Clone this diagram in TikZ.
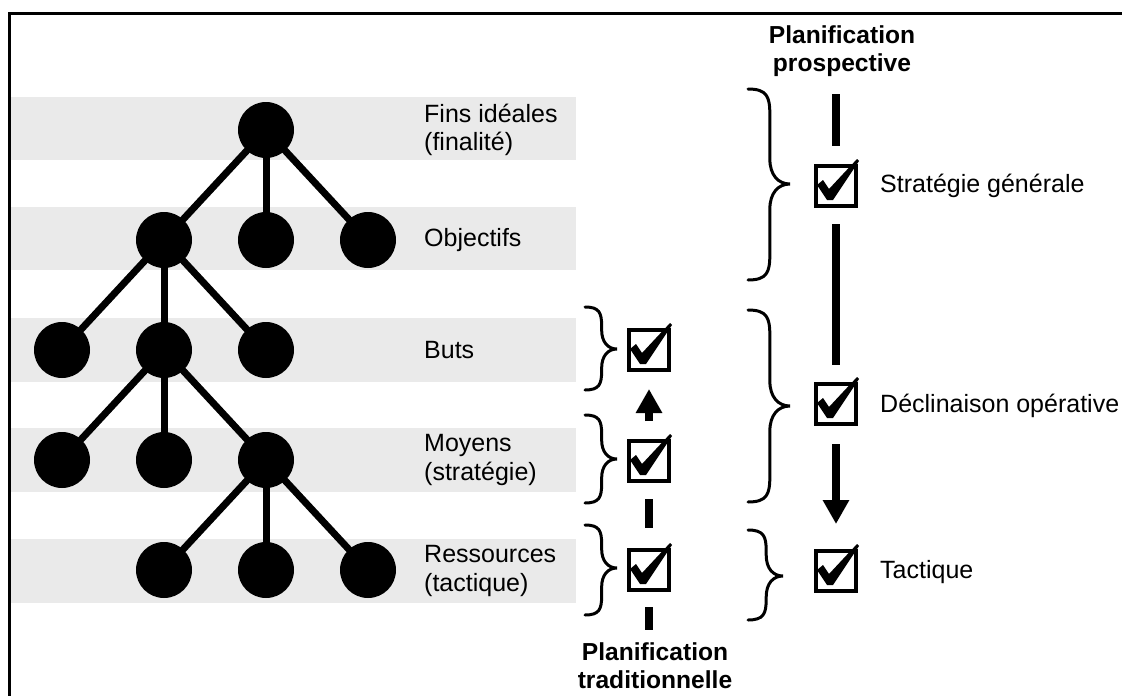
\documentclass[tikz,border=0pt]{standalone}
\usepackage{fontspec}
\setmainfont{Liberation Sans}
\usetikzlibrary{arrows.meta,calc}
\definecolor{bandgray}{HTML}{EAEAEA}
\tikzset{
  band/.style={fill=bandgray, draw=none},
  dot/.style={circle, fill=black, minimum size=56pt, inner sep=0pt},
  edge/.style={line width=7pt},
  lbl/.style={anchor=west, inner sep=0pt, align=left, font=\fontsize{25}{28.5}\selectfont},
  ttl/.style={inner sep=0pt, align=center, font=\bfseries\fontsize{24.6}{28}\selectfont},
  chkbox/.style={draw, line width=4pt, minimum size=40pt, inner sep=0pt},
  flow/.style={line width=8pt},
  flowarrow/.style={line width=8pt, -{Triangle[length=24pt,width=25pt]}},
  brc/.style={line width=3pt, line cap=round},
  frame/.style={line width=3pt},
}
\newcommand\cbrace[5]{% x0, ytop, ytip, ybot, width
  \pgfmathsetmacro\cbXa{#1+0.52*#5}%
  \pgfmathsetmacro\cbR{0.6*#5}%
  \draw[brc] (#1,#2) .. controls ({#1+0.45*#5},#2) and (\cbXa,{#2+0.3*\cbR}) .. (\cbXa,{#2+\cbR})
    -- (\cbXa,{#3-\cbR}) .. controls (\cbXa,{#3-0.35*\cbR}) and ({\cbXa+0.2*#5},#3) .. ({#1+#5},#3)
    .. controls ({\cbXa+0.2*#5},#3) and (\cbXa,{#3+0.35*\cbR}) .. (\cbXa,{#3+\cbR})
    -- (\cbXa,{#4-\cbR}) .. controls (\cbXa,{#4-0.3*\cbR}) and ({#1+0.45*#5},#4) .. (#1,#4);
}
\newcommand\chkmark[1]{%
  \fill[shift={(#1.north west)}] (3,21) -- (9,16) -- (15,25) -- (43,-5) -- (45,-3) -- (19,36) -- (13,36) -- cycle;
}
\begin{document}
\begin{tikzpicture}[x=1pt,y=-1pt]
\useasboundingbox (0,0) rectangle (1122,696);
% frame
\draw[frame] (9.5,696) -- (9.5,13.5) -- (1122,13.5);
% bands
\fill[band] (11,97) rectangle (576,160);
\fill[band] (11,207) rectangle (576,270);
\fill[band] (11,318) rectangle (576,382);
\fill[band] (11,428) rectangle (576,492);
\fill[band] (11,539) rectangle (576,603);
% tree nodes
\node[dot] (a) at (266,130) {};
\node[dot] (b1) at (164,240) {};
\node[dot] (b2) at (266,240) {};
\node[dot] (b3) at (368,240) {};
\node[dot] (c1) at (62,350) {};
\node[dot] (c2) at (164,350) {};
\node[dot] (c3) at (266,350) {};
\node[dot] (d1) at (62,460) {};
\node[dot] (d2) at (164,460) {};
\node[dot] (d3) at (266,460) {};
\node[dot] (e1) at (164,570) {};
\node[dot] (e2) at (266,570) {};
\node[dot] (e3) at (368,570) {};
\foreach \p/\c in {a/b1,a/b2,a/b3,b1/c1,b1/c2,b1/c3,c2/d1,c2/d2,c2/d3,d3/e1,d3/e2,d3/e3}
  \draw[edge] (\p.center) -- (\c.center);
% level labels
\node[lbl] (t1) at (424,130) {Fins idéales\\(finalité)};
\node[lbl] (t2) at (424,240) {Objectifs};
\node[lbl] (t3) at (424,350) {Buts};
\node[lbl] (t4) at (424,460) {Moyens\\(stratégie)};
\node[lbl] (t5) at (424,571) {Ressources\\(tactique)};
% left column (traditional)
\node[chkbox] (ckL1) at (649,350) {};
\node[chkbox] (ckL2) at (649,461) {};
\node[chkbox] (ckL3) at (649,570) {};
\chkmark{ckL1}\chkmark{ckL2}\chkmark{ckL3}
\coordinate (botL) at (649,630);
\draw[flowarrow, shorten <=18pt, shorten >=17pt] (ckL2.north) -- (ckL1.south);
\draw[flow, shorten <=16pt, shorten >=20pt] (ckL2.south) -- (ckL3.north);
\draw[flow, shorten <=15pt] (ckL3.south) -- (botL);
\node[ttl] (trad) at (655,666) {Planification\\traditionnelle};
\cbrace{585}{307}{349}{390}{32}
\cbrace{585}{415}{459}{503}{32}
\cbrace{585}{525}{568}{615}{32}
% right column (prospective)
\node[ttl] (prosp) at (842,51) {Planification\\prospective};
\node[chkbox] (ckR1) at (836,186) {};
\node[chkbox] (ckR2) at (836,404) {};
\node[chkbox] (ckR3) at (836,571) {};
\chkmark{ckR1}\chkmark{ckR2}\chkmark{ckR3}
\coordinate (topR) at (836,94);
\draw[flow, shorten >=18pt] (topR) -- (ckR1.north);
\draw[flow, shorten <=16pt, shorten >=17pt] (ckR1.south) -- (ckR2.north);
\draw[flowarrow, shorten <=18pt, shorten >=25pt] (ckR2.south) -- (ckR3.north);
\cbrace{748}{89}{184}{280}{42}
\cbrace{748}{310}{406}{502}{42}
\cbrace{748}{530}{576}{620}{35}
\node[lbl] (s1) at (880,186) {Stratégie générale};
\node[lbl] (s2) at (880,406) {Déclinaison opérative};
\node[lbl] (s3) at (880,572) {Tactique};
\end{tikzpicture}
\end{document}
